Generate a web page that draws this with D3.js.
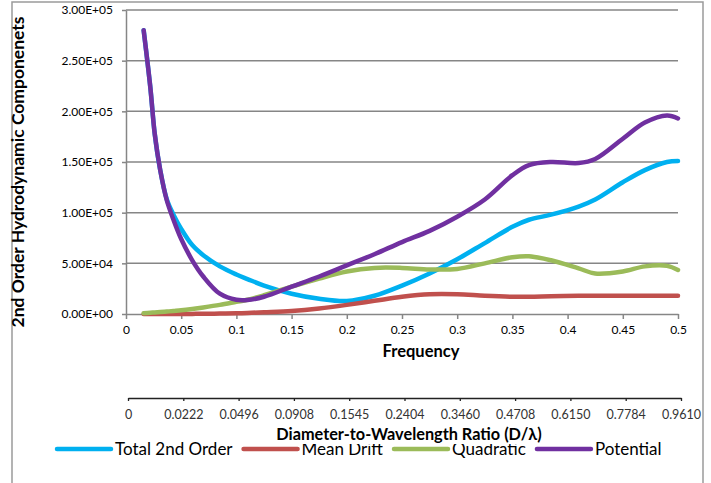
<!doctype html>
<html lang="en">
<head>
  <meta charset="utf-8">
  <title>2nd Order Hydrodynamic Components</title>
  <style>
    body { margin: 0; background: #fff; }
    svg { font-family: Lato, "Open Sans", sans-serif; }
  </style>
</head>
<body>
<script src="https://d3js.org/d3.v7.min.js"></script>
<svg width="711" height="483" id="chart"></svg>

<script>
    // frequency grid shared by all series
    var freq = [0.016, 0.022, 0.026, 0.031, 0.037, 0.043, 0.05, 0.06, 0.07, 0.085,
                0.1, 0.11, 0.125, 0.15, 0.175, 0.2, 0.225, 0.25, 0.275, 0.3,
                0.325, 0.35, 0.365, 0.385, 0.41, 0.425, 0.45, 0.47, 0.49, 0.5];

    var total2nd = [280000, 224000, 178000, 142000, 113000, 98000, 84000, 68000, 58000, 47000,
                    39000, 34500, 28000, 20000, 15000, 12800, 18000, 28000, 40000, 54000,
                    70000, 86000, 93000, 98000, 106000, 113000, 130000, 142000, 150000, 151000];

    var meanDrift = [0, 0, 0, 0, 0, 0, 0, 100, 200, 400,
                     700, 1000, 1700, 3000, 5500, 9000, 13000, 17000, 19500, 19500,
                     18000, 17000, 17000, 17500, 18000, 18000, 18000, 18000, 18000, 18000];

    var quadratic = [700, 1200, 1500, 1900, 2400, 3000, 3700, 5000, 6500, 9000,
                     12000, 14000, 18500, 27000, 35000, 42000, 45500, 45500, 44000, 44500,
                     50000, 56000, 57000, 53000, 45000, 40000, 42000, 47000, 47500, 43500];

    var potential = [280000, 224000, 178000, 142000, 112000, 93000, 74000, 53000, 37000, 20000,
                     14000, 13800, 17000, 27000, 37000, 48000, 59000, 71000, 82000, 96000,
                     113000, 137000, 147000, 150000, 149000, 153000, 173000, 189000, 196000, 193000];

    var seriesNames = ["Total 2nd Order", "Mean Drift", "Quadratic", "Potential"];
    var seriesColors = ["#00B0F0", "#C0504D", "#9BBB59", "#7030A0"];

    var yTicks = [0, 50000, 100000, 150000, 200000, 250000, 300000];
    var xTicks = [0, 0.05, 0.1, 0.15, 0.2, 0.25, 0.3, 0.35, 0.4, 0.45, 0.5];
    var ratioLabels = ["0", "0.0222", "0.0496", "0.0908", "0.1545", "0.2404",
                       "0.3460", "0.4708", "0.6150", "0.7784", "0.9610"];

    var svg = d3.select("#chart");

    var plotLeft = 126, plotTop = 10, plotRight = 678, plotBottom = 314;

    var x = d3.scaleLinear().domain([0, 0.5]).range([plotLeft, plotRight]);
    var y = d3.scaleLinear().domain([0, 300000]).range([plotBottom, plotTop]);

    // outer chart frame
    svg.append("rect")
        .attr("x", 12).attr("y", 2)
        .attr("width", 691).attr("height", 500)
        .attr("fill", "none")
        .attr("stroke", "#9a9a9a")
        .attr("stroke-width", 1.5);

    // gridlines
    svg.append("g")
        .selectAll("line")
        .data(yTicks.slice(1))
        .enter().append("line")
        .attr("x1", plotLeft).attr("x2", plotRight)
        .attr("y1", function(d) { return y(d); })
        .attr("y2", function(d) { return y(d); })
        .attr("stroke", "#868686")
        .attr("stroke-width", 1.5);

    function sci(d) {
        if (d === 0) return "0.00E+00";
        var e = Math.floor(Math.log10(d));
        return (d / Math.pow(10, e)).toFixed(2) + "E+" + (e < 10 ? "0" : "") + e;
    }

    var yAxis = svg.append("g")
        .attr("transform", "translate(" + plotLeft + ",0)")
        .call(d3.axisLeft(y).tickValues(yTicks).tickFormat(sci).tickSize(4).tickSizeOuter(0).tickPadding(9));

    var xAxis = svg.append("g")
        .attr("transform", "translate(0," + plotBottom + ")")
        .call(d3.axisBottom(x).tickValues(xTicks).tickFormat(function(d) { return d3.format("")(d); })
              .tickSize(5).tickSizeOuter(0).tickPadding(6));

    [yAxis, xAxis].forEach(function(a) {
        a.select(".domain").attr("stroke", "#868686").attr("stroke-width", 1.5);
        a.selectAll(".tick line").attr("stroke", "#868686").attr("stroke-width", 1.5);
        a.selectAll(".tick text").attr("font-size", 12).attr("fill", "#000")
            .attr("font-family", "Lato, sans-serif");
    });

    // series lines
    var allSeries = [total2nd, meanDrift, quadratic, potential];
    var line = d3.line()
        .x(function(d, i) { return x(freq[i]); })
        .y(function(d) { return y(d); })
        .curve(d3.curveCatmullRom.alpha(0.5));

    svg.append("g")
        .selectAll("path")
        .data(allSeries)
        .enter().append("path")
        .attr("d", line)
        .attr("fill", "none")
        .attr("stroke", function(d, i) { return seriesColors[i]; })
        .attr("stroke-width", 4.5)
        .attr("stroke-linecap", "round")
        .attr("stroke-linejoin", "round");

    // axis titles
    svg.append("text")
        .attr("x", 421).attr("y", 357)
        .attr("text-anchor", "middle")
        .attr("font-size", 16.5).attr("font-weight", "bold")
        .text("Frequency");

    svg.append("text")
        .attr("transform", "translate(24,172) rotate(-90)")
        .attr("text-anchor", "middle")
        .attr("font-size", 17.5).attr("font-weight", "bold")
        .text("2nd Order Hydrodynamic Componenets");

    // secondary (D/lambda) axis
    var r = d3.scalePoint().domain(ratioLabels).range([128, 681]);
    var rAxis = svg.append("g")
        .attr("transform", "translate(0,398)")
        .call(d3.axisBottom(r).tickSize(3).tickSizeOuter(0).tickPadding(9));
    rAxis.select(".domain").attr("stroke", "#222").attr("stroke-width", 1.3);
    rAxis.selectAll(".tick line").attr("stroke", "#222").attr("stroke-width", 1.3);
    rAxis.selectAll(".tick text").attr("font-size", 12.5).attr("fill", "#333")
        .attr("font-family", "Lato, sans-serif");

    // legend
    var legend = svg.append("g");
    var lx = 57;
    seriesNames.forEach(function(name, i) {
        legend.append("line")
            .attr("x1", lx).attr("x2", lx + 54)
            .attr("y1", 449).attr("y2", 449)
            .attr("stroke", seriesColors[i])
            .attr("stroke-width", 4.5)
            .attr("stroke-linecap", "round");
        var t = legend.append("text")
            .attr("x", lx + 58).attr("y", 455)
            .attr("font-size", 17)
            .text(name);
        lx += 58 + t.node().getComputedTextLength() + 11;
    });

    // secondary axis title drawn over the legend, with a white box behind it
    var rt = svg.append("g");
    var rtBox = rt.append("rect").attr("fill", "#fff");
    var rtText = rt.append("text")
        .attr("x", 409).attr("y", 440)
        .attr("text-anchor", "middle")
        .attr("font-size", 16.3).attr("font-weight", "bold")
        .text("Diameter-to-Wavelength Ratio (D/\u03bb)");
    var bb = rtText.node().getBBox();
    rtBox.attr("x", bb.x - 2).attr("y", bb.y).attr("width", bb.width + 4).attr("height", 444 - bb.y);
</script>
</body>
</html>
